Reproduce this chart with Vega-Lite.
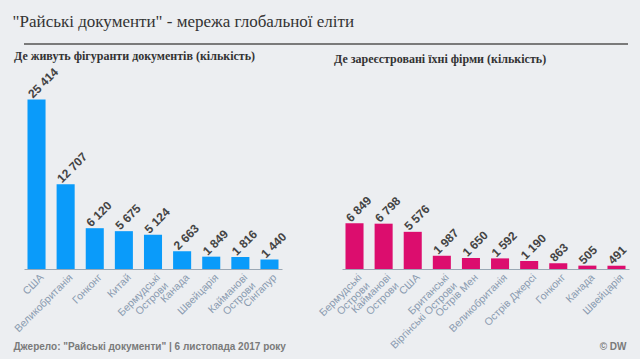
{
  "$schema": "https://vega.github.io/schema/vega-lite/v6.json",
  "background": "#eceef1",
  "padding": {"left": 12, "right": 12, "top": 13, "bottom": 8},
  "config": {
    "locale": {"number": {"decimal": ",", "thousands": " ", "grouping": [3], "currency": ["", ""]}},
    "view": {"stroke": null},
    "font": "Liberation Sans",
    "axisX": {
      "labelAngle": -45,
      "labelColor": "#8a9bb0",
      "labelFont": "Liberation Sans",
      "labelFontSize": 10.5,
      "labelLineHeight": 11.5,
      "labelPadding": 3,
      "labelOffset": 2,
      "ticks": false,
      "domainColor": "#9aa8b5",
      "domainWidth": 1,
      "labelExpr": "split(datum.label, '|')",
      "titleFont": "Liberation Sans",
      "titleFontSize": 10,
      "titleFontWeight": "bold",
      "titleColor": "#7a7a7a",
      "titleBaseline": "alphabetic"
    }
  },
  "title": {
    "text": "\"Райські документи\" - мережа глобальної еліти",
    "font": "Liberation Serif",
    "fontSize": 17,
    "fontWeight": "normal",
    "color": "#333333",
    "anchor": "start",
    "dx": 0,
    "offset": 12
  },
  "spacing": 4,
  "align": "none",
  "vconcat": [
    {
      "width": 604,
      "height": 2,
      "view": {"fill": "#7a7a7a", "stroke": null},
      "data": {"values": [{"v": 1}]},
      "mark": {"type": "text", "fontSize": 0, "opacity": 0},
      "encoding": {"text": {"value": ""}}
    },
    {
      "spacing": 28,
      "align": "none",
      "hconcat": [
        {
          "width": 258,
          "height": 200,
          "title": {
            "text": "Де живуть фігуранти документів (кількість)",
            "font": "Liberation Serif",
            "fontSize": 12,
            "fontWeight": "bold",
            "color": "#333333",
            "anchor": "start",
            "frame": "group",
            "dx": -10,
            "offset": 3
          },
          "data": {"values": [
            {"country": "США", "value": 25414},
            {"country": "Великобританія", "value": 12707},
            {"country": "Гонконг", "value": 6120},
            {"country": "Китай", "value": 5675},
            {"country": "Бермудські|Острови", "value": 5124},
            {"country": "Канада", "value": 2663},
            {"country": "Швейцарія", "value": 1849},
            {"country": "Кайманові|Острови", "value": 1816},
            {"country": "Сінгапур", "value": 1440}
          ]},
          "encoding": {
            "x": {
              "field": "country", "type": "nominal", "sort": null,
              "scale": {"paddingInner": 0.38, "paddingOuter": 0.12},
              "axis": {"title": "Джерело: \"Райські документи\" | 6 листопада 2017 року", "titleAnchor": "start", "titleAlign": "left", "titleX": -11, "titleY": 80}
            },
            "y": {"field": "value", "type": "quantitative", "scale": {"domain": [0, 30000]}, "axis": null}
          },
          "layer": [
            {"mark": {"type": "bar", "color": "#0a9bfa"}},
            {
              "mark": {"type": "text", "angle": -45, "align": "left", "baseline": "middle", "dx": -2, "dy": -7, "fontWeight": "bold", "fontSize": 12, "color": "#444444"},
              "encoding": {"text": {"field": "value", "type": "quantitative", "format": ",d"}}
            }
          ]
        },
        {
          "width": 287,
          "height": 200,
          "title": {
            "text": "Де зареєстровані їхні фірми (кількість)",
            "font": "Liberation Serif",
            "fontSize": 12,
            "fontWeight": "bold",
            "color": "#333333",
            "anchor": "start",
            "frame": "group",
            "dx": -8,
            "offset": 3
          },
          "data": {"values": [
            {"country": "Бермудські|Острови", "value": 6849},
            {"country": "Кайманові|Острови", "value": 6798},
            {"country": "США", "value": 5576},
            {"country": "Британські|Віргінські Острови", "value": 1987},
            {"country": "Острів Мен", "value": 1650},
            {"country": "Великобританія", "value": 1592},
            {"country": "Острів Джерсі", "value": 1190},
            {"country": "Гонконг", "value": 863},
            {"country": "Канада", "value": 505},
            {"country": "Швейцарія", "value": 491}
          ]},
          "encoding": {
            "x": {
              "field": "country", "type": "nominal", "sort": null,
              "scale": {"paddingInner": 0.38, "paddingOuter": 0.12},
              "axis": {"title": "© DW", "titleAnchor": "end", "titleAlign": "right", "titleX": 284, "titleY": 80}
            },
            "y": {"field": "value", "type": "quantitative", "scale": {"domain": [0, 30000]}, "axis": null}
          },
          "layer": [
            {"mark": {"type": "bar", "color": "#dc0d6e"}},
            {
              "mark": {"type": "text", "angle": -45, "align": "left", "baseline": "middle", "dx": -2, "dy": -7, "fontWeight": "bold", "fontSize": 12, "color": "#444444"},
              "encoding": {"text": {"field": "value", "type": "quantitative", "format": ",d"}}
            }
          ]
        }
      ]
    }
  ]
}
